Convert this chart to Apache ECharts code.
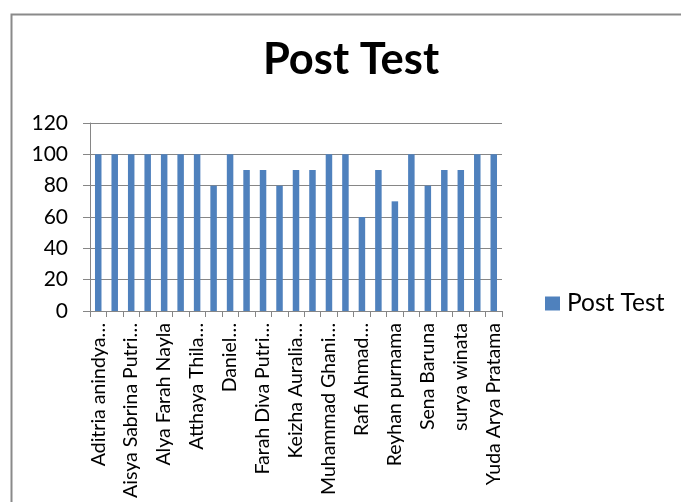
<!DOCTYPE html>
<html>
<head>
<meta charset="utf-8">
<script src="https://cdn.jsdelivr.net/npm/echarts@6/dist/echarts.min.js"></script>
<style>html,body{margin:0;padding:0;background:#fff;}#c{width:681px;height:502px;}</style>
</head>
<body>
<div id="c"></div>
<script>
// Categories (only every other name is shown on the axis; hidden ones are unreadable)
const categories = [
  "Aditria anindya…", "", "Aisya Sabrina Putri…", "", "Alya Farah Nayla", "",
  "Atthaya Thila…", "", "Daniel…", "", "Farah Diva Putri…", "", "Keizha Auralia…", "",
  "Muhammad Ghani…", "", "Rafi Ahmad…", "", "Reyhan purnama", "", "Sena Baruna", "",
  "surya winata", "", "Yuda Arya Pratama"
];
const postTest = [100,100,100,100,100,100,100,80,100,90,90,80,90,90,100,100,60,90,70,100,80,90,90,100,100];
const seriesName = "Post Test";
const chartTitle = "Post Test";

const chart = echarts.init(document.getElementById('c'), null, {renderer:'canvas'});
const FONT = 'Lato';
chart.setOption({
  animation: false,
  backgroundColor: '#ffffff',
  graphic: [{
    type: 'rect', left: 9, top: 12,
    shape: {x: 0, y: 0, width: 700, height: 520},
    style: {fill: 'none', stroke: '#8a8a8a', lineWidth: 2},
    silent: true
  }],
  title: {
    text: chartTitle, left: 346, top: 33, textAlign: 'center',
    textStyle: {fontFamily: FONT, fontWeight: 'bold', fontSize: 43.5, color: '#000'}
  },
  legend: {
    data: [seriesName], left: 540, top: 286, icon: 'rect',
    itemWidth: 15, itemHeight: 14, itemGap: 7,
    textStyle: {fontFamily: FONT, fontSize: 24.5, color: '#000', padding: [0,0,0,2]}
  },
  grid: {left: 90, right: 179, top: 123, bottom: 191, containLabel: false, outerBoundsMode: 'none'},
  xAxis: {
    type: 'category', data: categories, boundaryGap: true,
    axisLine: {lineStyle: {color: '#868686', width: 1}},
    axisTick: {show: true, interval: 0, length: 6, alignWithLabel: false, lineStyle: {color: '#868686'}},
    axisLabel: {interval: 1, rotate: 90, margin: 12, fontFamily: FONT, fontSize: 19.5, color: '#000'},
    splitLine: {show: false}
  },
  yAxis: {
    type: 'value', min: 0, max: 120, interval: 20,
    axisLine: {show: true, lineStyle: {color: '#868686', width: 1}},
    axisTick: {show: true, length: 7, lineStyle: {color: '#868686'}},
    axisLabel: {margin: 22, fontFamily: FONT, fontSize: 21, color: '#000'},
    splitLine: {show: true, lineStyle: {color: '#868686', width: 1}}
  },
  series: [{
    name: seriesName, type: 'bar', data: postTest,
    barWidth: 6.5,
    itemStyle: {color: '#4F81BD'}
  }]
});
</script>
</body>
</html>
